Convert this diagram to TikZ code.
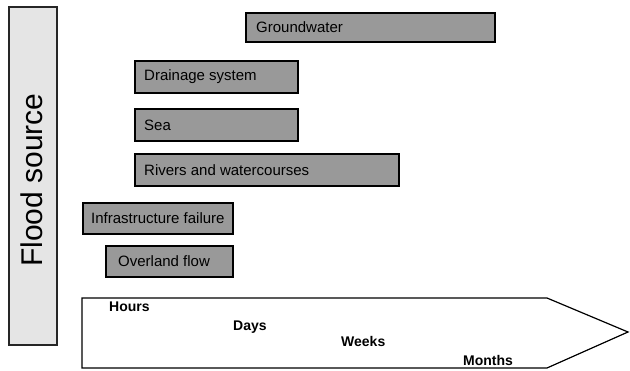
\documentclass[tikz,border=0pt]{standalone}
\usepackage{fontspec}
\setmainfont{Liberation Sans}
\begin{document}
\begin{tikzpicture}[x=1pt,y=-1pt,
  srcbox/.style={draw=black,line width=1.4pt,fill=black!40},
  srclabel/.style={anchor=west,inner sep=0pt,font=\fontsize{15}{18}\selectfont},
  timelabel/.style={anchor=west,inner sep=0pt,font=\fontsize{14}{16}\selectfont\bfseries}]
\useasboundingbox (0,0) rectangle (630,370);
% Flood source axis box
\draw[draw=black!85,line width=1.3pt,fill=black!10] (9,7) rectangle (57,345);
\node[rotate=90,anchor=base,inner sep=0pt,font=\fontsize{30}{34}\selectfont] (fs) at (42,180) {Flood source};
% source boxes
\draw[srcbox] (246,13) rectangle (495,42);
\node[srclabel] (gw) at (256,27.5) {Groundwater};
\draw[srcbox] (135,61) rectangle (298,93);
\node[srclabel] (ds) at (144,77) {Drainage system};
\draw[srcbox] (135,109) rectangle (298,141);
\node[srclabel] (sea) at (144,125) {Sea};
\draw[srcbox] (135,154) rectangle (399,186);
\node[srclabel] (rw) at (144,170) {Rivers and watercourses};
\draw[srcbox] (83,203) rectangle (233,234);
\node[srclabel] (inf) at (91,218.5) {Infrastructure failure};
\draw[srcbox] (106,246) rectangle (233,277);
\node[srclabel] (ov) at (118,261.5) {Overland flow};
% time arrow
\draw[line width=1.2pt,line join=miter,fill=white] (82,298) -- (547,298) -- (628,332) -- (547,368) -- (82,368) -- cycle;
\node[timelabel] (h) at (109,307) {Hours};
\node[timelabel] (d) at (233,327) {Days};
\node[timelabel] (w) at (341,341) {Weeks};
\node[timelabel] (m) at (463,360) {Months};
\end{tikzpicture}
\end{document}
